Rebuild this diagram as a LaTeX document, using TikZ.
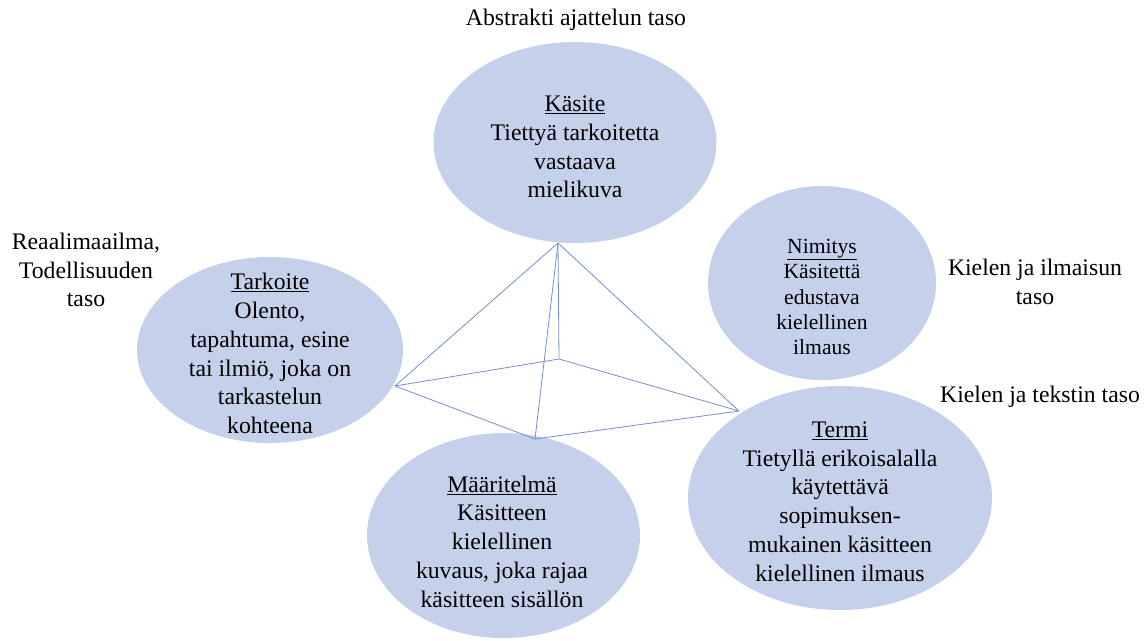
\documentclass[tikz,border=0pt]{standalone}
\usepackage{fontspec}
\setmainfont{Liberation Serif}
\usetikzlibrary{shapes.geometric}
\definecolor{bubblefill}{RGB}{197,209,235}
\definecolor{edgeblue}{RGB}{112,143,214}

\begin{document}
\begin{tikzpicture}[x=0.75pt,y=-0.75pt,
  bubble/.style={ellipse, fill=bubblefill, draw=none, inner sep=0pt},
  bigtext/.style={align=center, font=\fontsize{17.8}{21.6}\selectfont, inner sep=0pt},
  smalltext/.style={align=center, font=\fontsize{16.2}{19.1}\selectfont, inner sep=0pt},
  edgeline/.style={draw=edgeblue, line width=0.6pt, line join=round}]
\useasboundingbox (0,0) rectangle (1148,640);

% concept bubbles
\node[bubble, minimum width=212.25pt, minimum height=150.75pt] (kasite) at (575,142.5) {};
\node[bubble, minimum width=199.5pt, minimum height=139.5pt] (tarkoite) at (270,350) {};
\node[bubble, minimum width=171pt, minimum height=145.5pt] (nimitys) at (822,283) {};
\node[bubble, minimum width=228pt, minimum height=168pt] (termi) at (840,498) {};
\node[bubble, minimum width=204.75pt, minimum height=153.75pt] (maaritelma) at (503.5,535.5) {};

% texts inside the bubbles
\node[bigtext] (kasiteT) at (575,147) {\underline{Käsite}\\Tiettyä tarkoitetta\\vastaava\\mielikuva};
\node[bigtext] (tarkoiteT) at (270,353.5) {\underline{Tarkoite}\\Olento,\\tapahtuma, esine\\tai ilmiö, joka on\\tarkastelun\\kohteena};
\node[smalltext] (nimitysT) at (822,297) {\underline{Nimitys}\\Käsitettä\\edustava\\kielellinen\\ilmaus};
\node[bigtext] (termiT) at (840,501.5) {\underline{Termi}\\Tietyllä erikoisalalla\\käytettävä\\sopimuksen-\\mukainen käsitteen\\kielellinen ilmaus};
\node[bigtext] (maaritelmaT) at (502,541.5) {\underline{Määritelmä}\\Käsitteen\\kielellinen\\kuvaus, joka rajaa\\käsitteen sisällön};

% level labels
\node[bigtext] (abstrakti) at (576,20) {Abstrakti ajattelun taso};
\node[bigtext] (reaali) at (86,270) {Reaalimaailma,\\Todellisuuden\\taso};
\node[bigtext] (ilmaisu) at (1035,282) {Kielen ja ilmaisun\\taso};
\node[bigtext] (teksti) at (1040,397) {Kielen ja tekstin taso};

% pyramid
\coordinate (apex) at (558,243);
\coordinate (pl) at (395,386);
\coordinate (pb) at (559,359);
\coordinate (pr) at (739,411);
\coordinate (pf) at (535,439);
\draw[edgeline] (pl) -- (pb) -- (pr) -- (pf) -- cycle;
\draw[edgeline] (apex) -- (pl);
\draw[edgeline] (apex) -- (pb);
\draw[edgeline] (apex) -- (pr);
\draw[edgeline] (apex) -- (pf);
\end{tikzpicture}
\end{document}
